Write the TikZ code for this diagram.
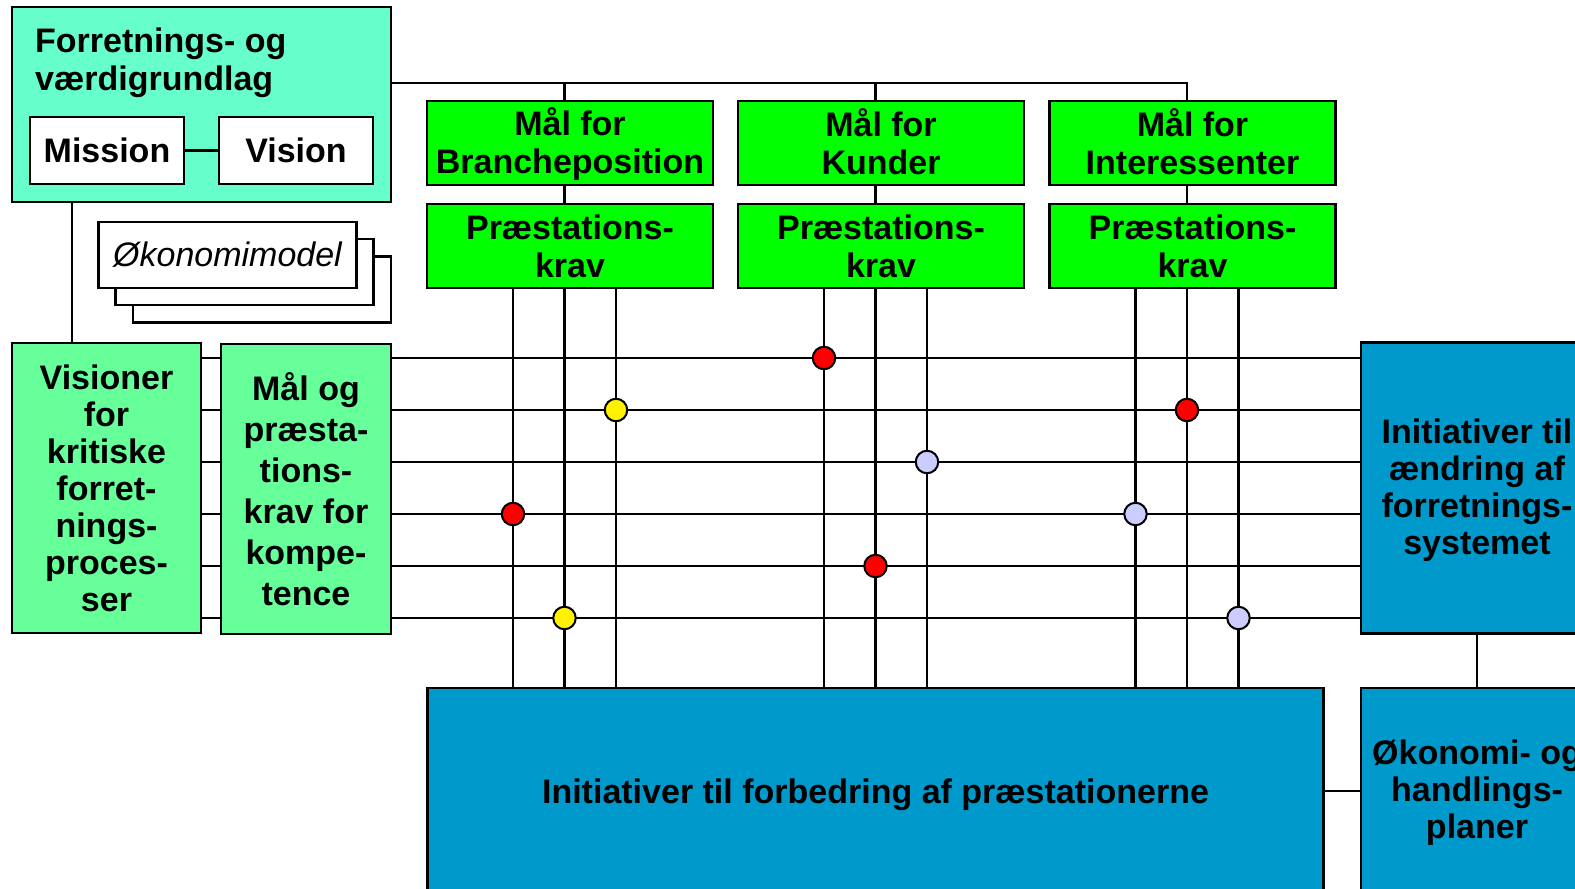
\documentclass[tikz,border=0pt]{standalone}
\usepackage{fontspec}
\setmainfont{Liberation Sans}
\definecolor{aquafill}{RGB}{102,255,204}
\definecolor{mintfill}{RGB}{102,255,153}
\definecolor{limefill}{RGB}{0,255,0}
\definecolor{bluefill}{RGB}{0,153,204}
\definecolor{lavfill}{RGB}{204,204,255}
\usetikzlibrary{positioning}
\newcommand{\gs}{\rule[-7pt]{0pt}{38pt}}
\newcommand{\topstrut}[1]{\rule{0pt}{#1}}
\newcommand{\botstrut}[1]{\rule[-#1]{0pt}{#1}}

\begin{document}
\begin{tikzpicture}[x=1pt, y=-1pt,
    box/.style={draw=black, line width=2.6pt, inner sep=0pt, align=center,
      font=\bfseries\fontsize{34}{37}\selectfont},
    whitebox/.style={box, fill=white},
    goalbox/.style={box, fill=limefill, minimum width=286pt, minimum height=84pt,
      font=\bfseries\fontsize{34}{38}\selectfont},
    initbox/.style={box, fill=bluefill},
    dot/.style={circle, draw=black, line width=2pt, minimum size=22.5pt, inner sep=0pt},
    conn/.style={draw=black, line width=2.1pt},
    rowline/.style={draw=black, line width=2.6pt}]
    \useasboundingbox (0,0) rectangle (1575,889);
    \clip (0,0) rectangle (1575,889);

    \node[box, fill=aquafill, minimum width=379pt, minimum height=195pt] (fvg) at (201.5,104.5) {};
    \node[anchor=north west, inner sep=0pt, align=left, font=\bfseries\fontsize{34}{38}\selectfont] (fvgtxt) at (35,28) {Forretnings- og\\værdigrundlag};
    \node[whitebox, minimum width=154pt, minimum height=67pt] (mission) at (107,150.5) {Mission};
    \node[whitebox, minimum width=154pt, minimum height=67pt] (vision) at (296,150.5) {Vision};
    \draw[conn] (mission) -- (vision);

    \node[whitebox, minimum width=258pt, minimum height=66pt] (okm3) at (262,289.5) {};
    \node[whitebox, minimum width=258pt, minimum height=66pt] (okm2) at (244.5,272) {};
    \node[whitebox, minimum width=258pt, minimum height=66pt, font=\itshape\fontsize{34}{37}\selectfont] (okm1) at (227.5,255) {Økonomimodel};

    \node[box, fill=mintfill, minimum width=189pt, minimum height=290pt] (vis) at (106.5,488) {Visioner\\for\\kritiske\\forret-\\nings-\\proces-\\ser};
    \node[box, fill=mintfill, minimum width=170pt, minimum height=290pt, font=\bfseries\fontsize{34}{41}\selectfont] (malk) at (306,489) {Mål og\\præsta-\\tions-\\krav for\\kompe-\\tence};
    \draw[conn] (vis.north -| 72,0) -- (fvg.south -| 72,0);

    \node[goalbox] (bra1) at (570,143) {\gs Mål for\\\gs Brancheposition};
    \node[goalbox] (kun1) at (881,143) {\gs Mål for\\\gs Kunder};
    \node[goalbox] (int1) at (1192.5,143) {\gs Mål for\\\gs Interessenter};
    \node[goalbox] (bra2) at (570,246) {\gs Præstations-\\\gs krav};
    \node[goalbox] (kun2) at (881,246) {\gs Præstations-\\\gs krav};
    \node[goalbox] (int2) at (1192.5,246) {\gs Præstations-\\\gs krav};

    \node[initbox, minimum width=896pt, minimum height=206pt] (forb) at (875.5,791) {\raisebox{-12.5pt}[0pt][0pt]{Initiativer til forbedring af præstationerne}};
    \node[initbox, minimum width=232pt, minimum height=291pt] (initA) at (1477,488) {\topstrut{29pt}Initiativer til\\ændring af\\forretnings-\\systemet\botstrut{8pt}};
    \node[initbox, minimum width=232pt, minimum height=206pt] (okh) at (1477,791) {\topstrut{28pt}Økonomi- og\\handlings-\\planer\botstrut{8pt}};
    \draw[conn] (initA) -- (okh);
    \draw[conn] (forb) -- (okh);

    \draw[rowline] (fvg.east |- 0,83) -| ([xshift=-5.5pt]int1.north);
    \foreach \g in {bra,kun,int} {
      \draw[conn] ([xshift=-5.5pt]\g1.north) -- ([xshift=-5.5pt]\g1.north |- 0,83);
      \draw[conn] ([xshift=-5.5pt]\g1.south) -- ([xshift=-5.5pt]\g2.north);
      \foreach \dx in {-57,-5.5,46}
        \draw[conn] ([xshift=\dx pt]\g2.south) -- ([xshift=\dx pt]\g2.south |- forb.north);
    }
    \foreach \y in {358,410,462,514,566,618} {
      \draw[rowline] (vis.east |- 0,\y) -- (malk.west |- 0,\y);
      \draw[rowline] (malk.east |- 0,\y) -- (initA.west |- 0,\y);
    }

    \node[dot, fill=red] (d1) at ([xshift=-57pt]kun2.south |- 0,358) {};
    \node[dot, fill=yellow] (d2) at ([xshift=46pt]bra2.south |- 0,410) {};
    \node[dot, fill=red] (d3) at ([xshift=-5.5pt]int2.south |- 0,410) {};
    \node[dot, fill=lavfill] (d4) at ([xshift=46pt]kun2.south |- 0,462) {};
    \node[dot, fill=red] (d5) at ([xshift=-57pt]bra2.south |- 0,514) {};
    \node[dot, fill=lavfill] (d6) at ([xshift=-57pt]int2.south |- 0,514) {};
    \node[dot, fill=red] (d7) at ([xshift=-5.5pt]kun2.south |- 0,566) {};
    \node[dot, fill=yellow] (d8) at ([xshift=-5.5pt]bra2.south |- 0,618) {};
    \node[dot, fill=lavfill] (d9) at ([xshift=46pt]int2.south |- 0,618) {};
\end{tikzpicture}
\end{document}
